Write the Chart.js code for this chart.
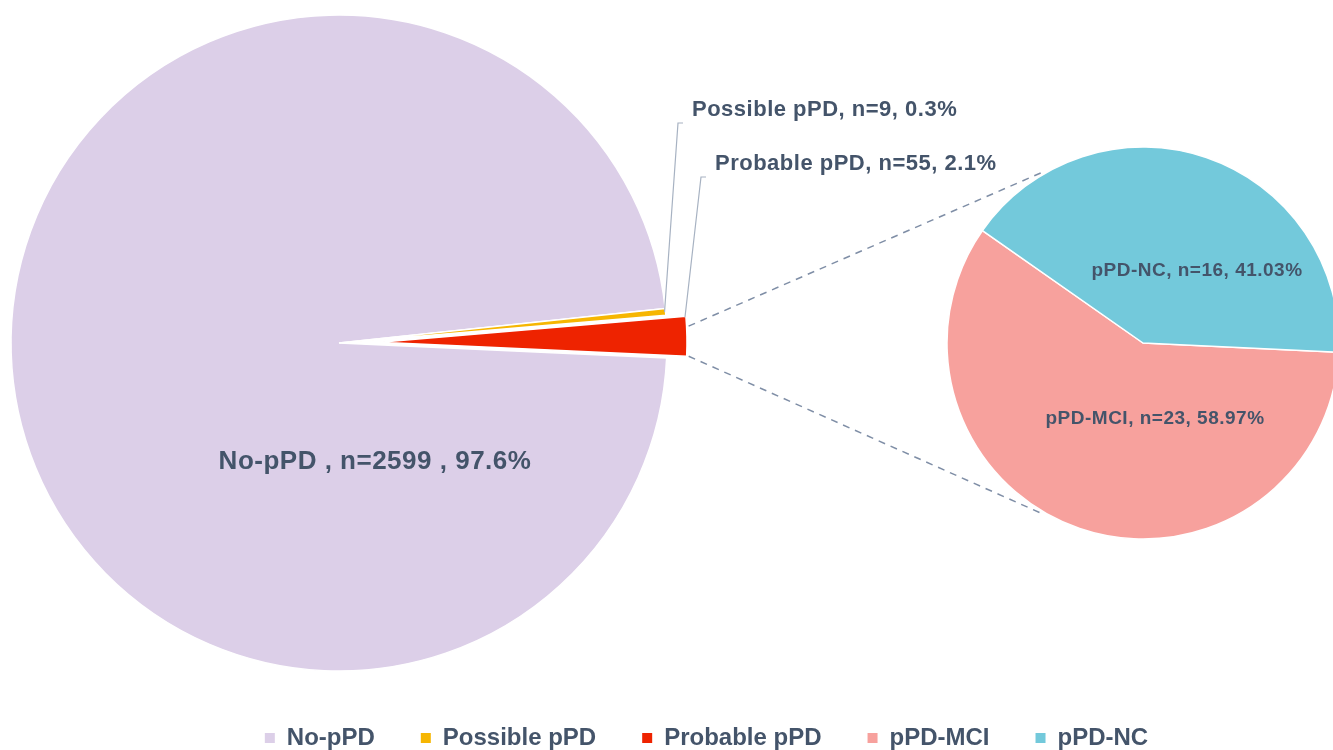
<!DOCTYPE html>
<html>
<head>
<meta charset="utf-8">
<script src="https://cdn.jsdelivr.net/npm/chart.js@4.4.1/dist/chart.umd.min.js"></script>
<style>
  html, body { margin: 0; padding: 0; background: #ffffff; overflow: hidden; width: 1333px; height: 750px; }
  canvas { position: absolute; left: 0; top: 0; }
</style>
</head>
<body>
<canvas id="mainPie" width="1333" height="750"></canvas>
<canvas id="subPie" width="1333" height="750"></canvas>
<canvas id="keyChart" width="1333" height="760"></canvas>
<script>
// Whole cohort split by pPD status
const groups = ['No-pPD', 'Possible pPD', 'Probable pPD'];
const groupCounts = [2599, 9, 55];
const groupColors = ['#dccfe8', '#f6b602', '#ee2300'];

// Probable pPD split by cognition
const subgroups = ['pPD-MCI', 'pPD-NC'];
const subgroupCounts = [23, 16];
const subgroupColors = ['#f7a19d', '#73c9db'];

const TEXT = '#44546a';
const FONT = '"Liberation Sans", Arial, Helvetica, sans-serif';

function pct(counts, i, digits) {
  const total = counts.reduce((a, b) => a + b, 0);
  return (counts[i] / total * 100).toFixed(digits) + '%';
}

function drawText(ctx, text, x, y, size, align, spacing) {
  ctx.save();
  ctx.font = 'bold ' + size + 'px ' + FONT;
  ctx.fillStyle = TEXT;
  ctx.textAlign = align;
  ctx.textBaseline = 'middle';
  if ('letterSpacing' in ctx) ctx.letterSpacing = spacing + 'px';
  ctx.fillText(text, x, y);
  ctx.restore();
}

// Pulls a slice away from the centre along its bisector
const explodePlugin = {
  id: 'explodeSlice',
  afterDatasetUpdate(chart, args, opts) {
    const meta = args.meta;
    opts.shift.forEach((d, i) => {
      if (!d) return;
      const el = meta.data[i];
      const mid = (el.startAngle + el.endAngle) / 2;
      el.x += Math.cos(mid) * d;
      el.y += Math.sin(mid) * d;
      el.outerRadius = opts.radius[i];
    });
  }
};

// Slice captions and leader lines for the main pie
const mainLabelPlugin = {
  id: 'mainLabels',
  afterDatasetsDraw(chart, args, opts) {
    const ctx = chart.ctx;
    const arcs = chart.getDatasetMeta(0).data;
    const seps = [' , ', ', ', ', '];
    opts.spots.forEach((s, i) => {
      const text = groups[i] + seps[i] + 'n=' + groupCounts[i] + seps[i] + pct(groupCounts, i, 1);
      drawText(ctx, text, s.x, s.y, s.size, s.align, s.spacing);
      if (s.leader) {
        const el = arcs[i];
        const a = el.startAngle + (el.endAngle - el.startAngle) * s.leader;
        const r = el.outerRadius - 1;
        ctx.save();
        ctx.strokeStyle = '#a7b2c2';
        ctx.lineWidth = 1.2;
        ctx.beginPath();
        ctx.moveTo(el.x + Math.cos(a) * r, el.y + Math.sin(a) * r);
        ctx.lineTo(s.x - 14, s.y + 13);
        ctx.lineTo(s.x - 9, s.y + 13);
        ctx.stroke();
        ctx.restore();
      }
    });
  }
};

const mainChart = new Chart(document.getElementById('mainPie'), {
  type: 'pie',
  data: {
    labels: groups,
    datasets: [{
      data: groupCounts,
      backgroundColor: groupColors,
      borderColor: '#ffffff',
      borderWidth: 1.5,
      clip: false
    }]
  },
  options: {
    responsive: false,
    animation: false,
    events: [],
    rotation: 92.6,
    radius: 328,
    layout: { padding: { left: 0, right: 655, top: 0, bottom: 64 } },
    plugins: {
      legend: { display: false },
      tooltip: { enabled: false },
      explodeSlice: { shift: [0, 0, 41], radius: [0, 0, 307] },
      mainLabels: {
        spots: [
          { x: 375, y: 462, size: 26, align: 'center', spacing: 0.5 },
          { x: 692, y: 110, size: 22, align: 'left', spacing: 0.5, leader: 0.5 },
          { x: 715, y: 164, size: 22, align: 'left', spacing: 0.5, leader: 0.02 }
        ]
      }
    }
  },
  plugins: [explodePlugin, mainLabelPlugin]
});

// Dashed links from the exploded slice to the breakdown pie, plus captions
const subPlugin = {
  id: 'subDecor',
  beforeDatasetsDraw(chart, args, opts) {
    const ctx = chart.ctx;
    const red = mainChart.getDatasetMeta(0).data[2];
    const span = red.endAngle - red.startAngle;
    const rr = red.outerRadius + 2;
    const a1 = red.startAngle + span * 0.25;
    const a2 = red.endAngle;
    const c = chart.getDatasetMeta(0).data[0];
    const rc = c.outerRadius + 2;
    const b1 = opts.linkAngles[0] * Math.PI / 180;
    const b2 = opts.linkAngles[1] * Math.PI / 180;
    ctx.save();
    ctx.strokeStyle = '#7f8ea6';
    ctx.lineWidth = 1.5;
    ctx.setLineDash([7, 6]);
    ctx.beginPath();
    ctx.moveTo(red.x + Math.cos(a1) * rr, red.y + Math.sin(a1) * rr);
    ctx.lineTo(c.x + Math.cos(b1) * rc, c.y + Math.sin(b1) * rc);
    ctx.moveTo(red.x + Math.cos(a2) * rr, red.y + Math.sin(a2) * rr);
    ctx.lineTo(c.x + Math.cos(b2) * rc, c.y + Math.sin(b2) * rc);
    ctx.stroke();
    ctx.restore();
  },
  afterDatasetsDraw(chart, args, opts) {
    const ctx = chart.ctx;
    opts.spots.forEach((s, i) => {
      const text = subgroups[i] + ', n=' + subgroupCounts[i] + ', ' + pct(subgroupCounts, i, 2);
      drawText(ctx, text, s.x, s.y, 19, 'center', 0.5);
    });
  }
};

new Chart(document.getElementById('subPie'), {
  type: 'pie',
  data: {
    labels: subgroups,
    datasets: [{
      data: subgroupCounts,
      backgroundColor: subgroupColors,
      borderColor: '#ffffff',
      borderWidth: 1.5,
      clip: false
    }]
  },
  options: {
    responsive: false,
    animation: false,
    events: [],
    rotation: 92.7,
    radius: 196,
    layout: { padding: { left: 953, right: 0, top: 0, bottom: 64 } },
    plugins: {
      legend: { display: false },
      tooltip: { enabled: false },
      subDecor: {
        linkAngles: [240, 120],
        spots: [
          { x: 1155, y: 419 },
          { x: 1197, y: 271 }
        ]
      }
    }
  },
  plugins: [subPlugin]
});

// Shared key for all five categories
new Chart(document.getElementById('keyChart'), {
  type: 'pie',
  data: {
    labels: groups.concat(subgroups),
    datasets: [{
      data: groupCounts.concat(subgroupCounts),
      backgroundColor: groupColors.concat(subgroupColors),
      borderWidth: 0
    }]
  },
  options: {
    responsive: false,
    animation: false,
    events: [],
    radius: 0,
    layout: { padding: { left: 80, right: 0, top: 0, bottom: 0 } },
    plugins: {
      tooltip: { enabled: false },
      legend: {
        display: true,
        position: 'bottom',
        align: 'center',
        labels: {
          boxWidth: 10,
          boxHeight: 10,
          padding: 46,
          color: TEXT,
          font: { family: FONT, size: 24, weight: 'bold' }
        }
      }
    }
  }
});
</script>
</body>
</html>
